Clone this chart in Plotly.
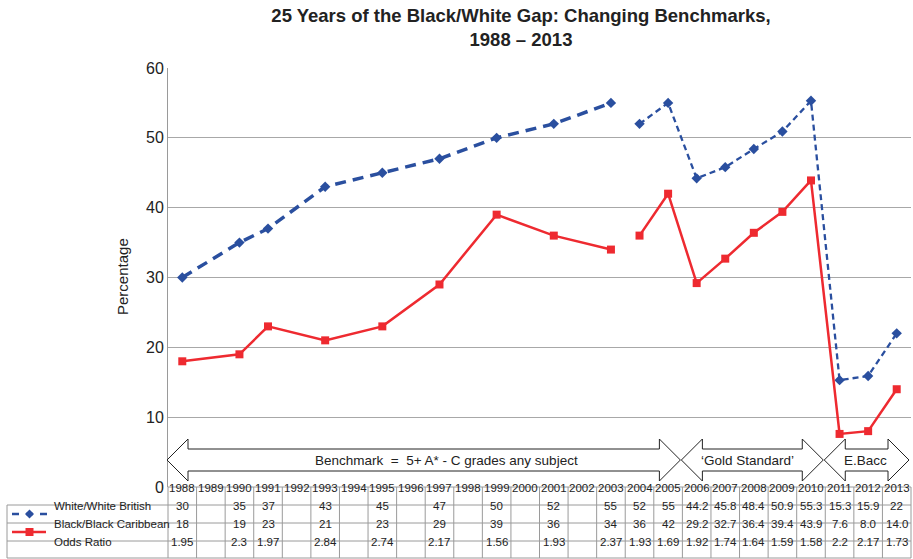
import plotly.graph_objects as go

years = list(range(1988, 2014))
white = [30, None, 35, 37, None, 43, None, 45, None, 47, None, 50, None, 52, None, 55,
         52, 55, 44.2, 45.8, 48.4, 50.9, 55.3, 15.3, 15.9, 22]
black = [18, None, 19, 23, None, 21, None, 23, None, 29, None, 39, None, 36, None, 34,
         36, 42, 29.2, 32.7, 36.4, 39.4, 43.9, 7.6, 8.0, 14.0]
odds = [1.95, None, 2.3, 1.97, None, 2.84, None, 2.74, None, 2.17, None, 1.56, None, 1.93, None, 2.37,
        1.93, 1.69, 1.92, 1.74, 1.64, 1.59, 1.58, 2.2, 2.17, 1.73]
benchmarks = [("Benchmark  =  5+ A* - C grades any subject", 1988, 2005, 23),
              ("\u2018Gold Standard\u2019", 2006, 2010, -5),
              ("E.Bacc", 2011, 2013, -1)]
split_year = 2004  # the series restarts here

BLUE = "#2a4f9f"
RED = "#ee2a30"
GRID = "#a8a8a8"
W, H = 913, 559
L, R, T, B = 168, 2, 68, 72
PW, PH = W - L - R, H - T - B

def py(pix):  # pixel row -> paper y
    return (H - B - pix) / PH

def px(pix):  # pixel column -> paper x
    return (pix - L) / PW

def edge(year):  # left edge of a year's column, paper x
    return (year - years[0]) / len(years)

def segment(vals, first):
    xs, ys = [], []
    for yr, v in zip(years, vals):
        if v is None or (yr < split_year) != first:
            continue
        xs.append(yr)
        ys.append(v)
    return xs, ys

fig = go.Figure()
for first in (True, False):
    xs, ys = segment(white, first)
    fig.add_trace(go.Scatter(x=xs, y=ys, mode="lines+markers",
        line=dict(color=BLUE, width=3.5 if first else 2.3, dash="11px,7px" if first else "6px,4px"),
        marker=dict(symbol="diamond", size=8, color=BLUE), showlegend=False))
    xs, ys = segment(black, first)
    fig.add_trace(go.Scatter(x=xs, y=ys, mode="lines+markers",
        line=dict(color=RED, width=2.5),
        marker=dict(symbol="square", size=8, color=RED), showlegend=False))

shapes = []
annotations = []

# benchmark arrows
yc, hs, hh, hl = py(460), 11 / PH, 21 / PH, 21 / PW
for label, y0, y1, shift in benchmarks:
    a, b = edge(y0) - 1 / PW, edge(y1 + 1) - 2 / PW
    path = (f"M{a},{yc} L{a+hl},{yc+hh} L{a+hl},{yc+hs} L{b-hl},{yc+hs} L{b-hl},{yc+hh} "
            f"L{b},{yc} L{b-hl},{yc-hh} L{b-hl},{yc-hs} L{a+hl},{yc-hs} L{a+hl},{yc-hh} Z")
    shapes.append(dict(type="path", xref="paper", yref="paper", path=path,
                       fillcolor="white", line=dict(color="#222", width=1)))
    annotations.append(dict(x=(a + b) / 2, y=yc, xref="paper", yref="paper", text=label,
                            xanchor="center", yanchor="middle",
                            showarrow=False, xshift=shift, font=dict(size=13.5, color="#222")))

# data table
rows = [py(487), py(505), py(523), py(541), py(558)]
lc = dict(color="#9a9a9a", width=1)
shapes.append(dict(type="line", xref="paper", yref="paper", x0=0, x1=1, y0=rows[0], y1=rows[0], line=lc))
for r in rows[1:]:
    shapes.append(dict(type="line", xref="paper", yref="paper", x0=px(7), x1=1, y0=r, y1=r, line=lc))
shapes.append(dict(type="line", xref="paper", yref="paper", x0=px(7), x1=px(7), y0=rows[1], y1=rows[4], line=lc))
for k in range(len(years) + 1):
    shapes.append(dict(type="line", xref="paper", yref="paper", x0=k / len(years), x1=k / len(years),
                       y0=rows[0], y1=rows[4], line=lc))

cell_font = dict(size=11.5, color="#222")
for i, yr in enumerate(years):
    annotations.append(dict(x=yr, y=(rows[0] + rows[1]) / 2, xref="x", yref="paper", text=str(yr),
                            xanchor="center", showarrow=False, font=dict(size=11.5, color="#222")))
    for vals, j in ((white, 1), (black, 2), (odds, 3)):
        if vals[i] is not None:
            annotations.append(dict(x=yr, y=(rows[j] + rows[j + 1]) / 2, xref="x", yref="paper",
                                    text=str(vals[i]), xanchor="center", showarrow=False, font=cell_font))

for text, j in (("White/White British", 1), ("Black/Black Caribbean", 2), ("Odds Ratio", 3)):
    annotations.append(dict(x=px(52), y=(rows[j] + rows[j + 1]) / 2, xref="paper", yref="paper",
                            text=text, showarrow=False, xanchor="left", font=cell_font))

# legend keys inside the table
ky1, ky2 = (rows[1] + rows[2]) / 2, (rows[2] + rows[3]) / 2
for p0, p1 in ((12, 19), (26, 33), (40, 47)):
    shapes.append(dict(type="line", xref="paper", yref="paper", x0=px(p0), x1=px(p1), y0=ky1, y1=ky1,
                       line=dict(color=BLUE, width=2.5)))
dx, dy = 4.5 / PW, 4.5 / PH
cx = px(29.5)
shapes.append(dict(type="path", xref="paper", yref="paper",
                   path=f"M{cx-dx},{ky1} L{cx},{ky1+dy} L{cx+dx},{ky1} L{cx},{ky1-dy} Z",
                   fillcolor=BLUE, line=dict(width=0)))
shapes.append(dict(type="line", xref="paper", yref="paper", x0=px(12), x1=px(46), y0=ky2, y1=ky2,
                   line=dict(color=RED, width=2.5)))
sx, sy = 4 / PW, 4 / PH
shapes.append(dict(type="rect", xref="paper", yref="paper", x0=cx - sx, x1=cx + sx, y0=ky2 - sy, y1=ky2 + sy,
                   fillcolor=RED, line=dict(width=0)))

annotations.append(dict(x=px(122), y=py(277), xref="paper", yref="paper", text="Percentage",
                        xanchor="center", yanchor="middle",
                        textangle=-90, showarrow=False, font=dict(size=15, color="#222")))

fig.update_layout(
    width=W, height=H,
    margin=dict(l=L, r=R, t=T, b=B),
    paper_bgcolor="white", plot_bgcolor="white",
    font=dict(family="Liberation Sans, Arial, sans-serif", color="#222"),
    title=dict(text="<b>25 Years of the Black/White Gap: Changing Benchmarks,<br>1988 \u2013 2013</b>",
               x=521 / W, xanchor="center", y=1 - 22 / H, yanchor="top",
               font=dict(size=18.5, color="#222")),
    shapes=shapes, annotations=annotations,
)
fig.update_xaxes(range=[years[0] - 0.5, years[-1] + 0.5], showticklabels=False, showgrid=False,
                 zeroline=False, showline=False, ticks="")
fig.update_yaxes(range=[0, 60], dtick=10, showgrid=True, gridcolor=GRID, gridwidth=1,
                 zeroline=False, showline=True, linecolor="#9a9a9a", ticks="",
                 tickfont=dict(size=16, color="#222"))

fig.write_html("out.html", config={"displayModeBar": False},
               post_script="document.body.style.margin='0';")
